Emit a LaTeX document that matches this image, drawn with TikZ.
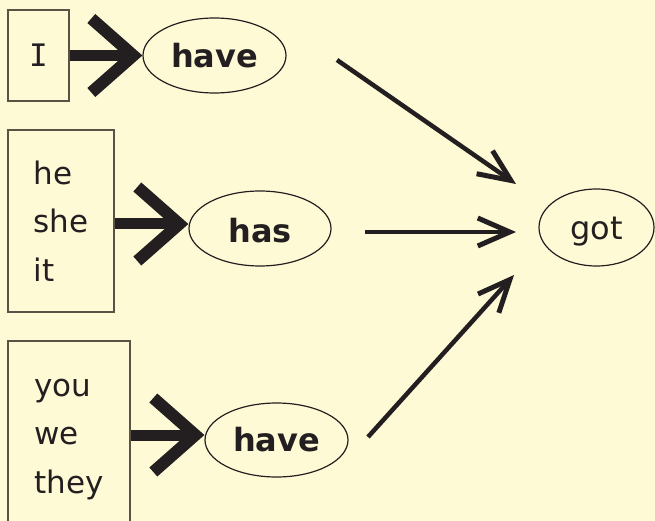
\documentclass[tikz,border=0pt]{standalone}
\usepackage{fontspec}
\setmainfont{DejaVu Sans}
\newfontfamily\serifI{DejaVu Sans Mono}
\usetikzlibrary{shapes.geometric,arrows.meta}
\definecolor{bg}{HTML}{FFFAD6}
\definecolor{ink}{HTML}{231F20}
\definecolor{boxline}{HTML}{5A5244}
\begin{document}
\begin{tikzpicture}[x=1pt,y=-1pt,
  wordbox/.style={draw=boxline,line width=1.5pt,rectangle,inner sep=0pt,align=left,text=ink,font=\fontsize{31}{48.5}\selectfont},
  verb/.style={draw=ink,line width=1.2pt,ellipse,inner sep=0pt,text=ink,font=\bfseries\fontsize{32}{38}\selectfont},
  bigarrow/.style={draw=ink,line width=11pt,-{Straight Barb[length=42pt,width=74pt,line width=12pt,sharp]}},
  thinarrow/.style={draw=ink,line width=4.5pt,-{Straight Barb[length=32pt,width=28pt,line width=5pt,sharp]}}]
\fill[bg] (0,0) rectangle (655,521);
\useasboundingbox (0,0) rectangle (655,521);
\node[wordbox,minimum width=61pt,minimum height=91pt] (b1) at (38.5,55.5) {\serifI I};
\node[wordbox,minimum width=106pt,minimum height=182pt] (b2) at (61,221) {he\\she\\it};
\node[wordbox,minimum width=122pt,minimum height=197pt] (b3) at (69,439.5) {you\\we\\they};
\node[verb,minimum width=143pt,minimum height=75pt] (e1) at (214.5,55.5) {have};
\node[verb,minimum width=142pt,minimum height=75pt,text height=28pt,text depth=0pt] (e2) at (260,228.5) {has};
\node[verb,minimum width=143pt,minimum height=74pt] (e3) at (276.5,440) {have};
\node[verb,font=\fontsize{32}{38}\selectfont,minimum width=115pt,minimum height=77pt,text height=25pt,text depth=0pt] (got) at (596.5,227.5) {got};
\coordinate (r2) at (0,224);
\coordinate (r3) at (0,435);
\draw[bigarrow] (b1.east) -- (e1.west);
\draw[bigarrow] (b2.east |- r2) -- (e2.west |- r2);
\draw[bigarrow] (b3.east |- r3) -- (e3.west |- r3);
\coordinate (s1) at (337,60); \coordinate (t1) at (516,184);
\coordinate (s2) at (365,232); \coordinate (t2) at (516,232);
\coordinate (s3) at (368,437); \coordinate (t3) at (514,275);
\draw[thinarrow] (s1) -- (t1);
\draw[thinarrow] (s2) -- (t2);
\draw[thinarrow] (s3) -- (t3);
\end{tikzpicture}
\end{document}
